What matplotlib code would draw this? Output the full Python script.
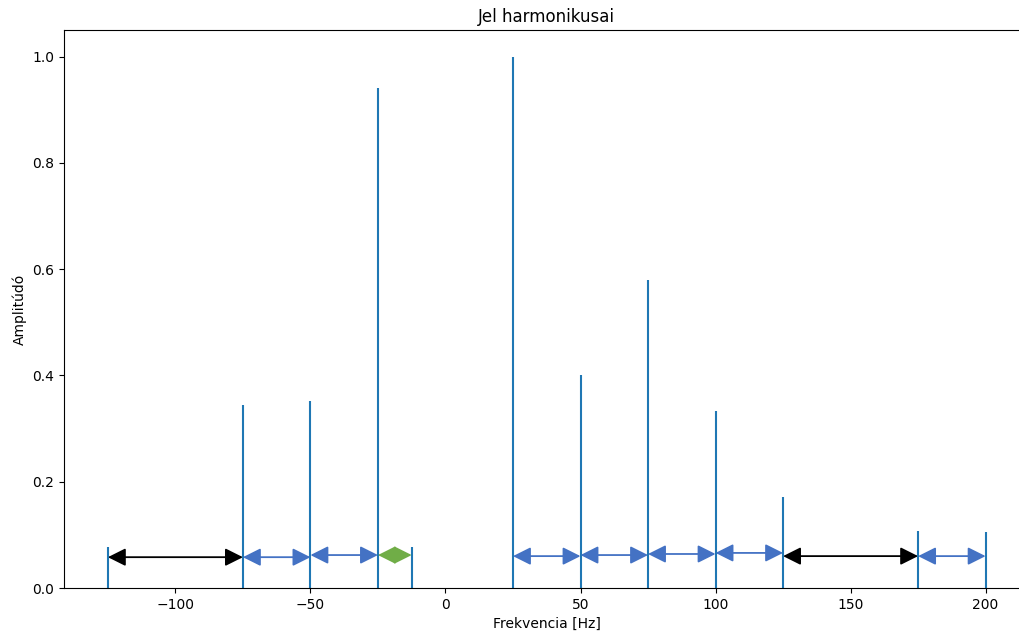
import matplotlib
matplotlib.use('Agg')
import matplotlib.pyplot as plt

# harmonics
freqs = [-125, -75, -50, -25, -12.5, 25, 50, 75, 100, 125, 175, 200]
amps = [0.078, 0.345, 0.351, 0.94, 0.077, 1.0, 0.401, 0.58, 0.333, 0.171, 0.107, 0.106]

# arrows between harmonics: start, end, height, colour
arr_start = [-125, -75, -50, -25, 25, 50, 75, 100, 125, 175]
arr_end = [-75, -50, -25, -12.5, 50, 75, 100, 125, 175, 200]
arr_y = [0.058, 0.058, 0.062, 0.062, 0.060, 0.062, 0.064, 0.066, 0.060, 0.060]
arr_col = ['black', '#4472C4', '#4472C4', '#70AD47', '#4472C4', '#4472C4',
           '#4472C4', '#4472C4', 'black', '#4472C4']

fig = plt.figure(figsize=(10.2, 6.32), dpi=100)
ax = fig.add_axes([64/1020, 44/632, (1029.5-64)/1020, 558/632])

ax.vlines(freqs, 0, amps, colors='#1f77b4', linewidth=1.5)

for x0, x1, y, c in zip(arr_start, arr_end, arr_y, arr_col):
    ax.annotate('', xy=(x1, y), xytext=(x0, y),
                arrowprops=dict(arrowstyle='<|-|>', color=c, lw=1.3,
                                mutation_scale=27, shrinkA=0, shrinkB=0))

ax.set_xlim(-141.25, 216.25)
ax.set_ylim(0, 1.05)
ax.set_xticks([-100, -50, 0, 50, 100, 150, 200])
ax.set_title('Jel harmonikusai')
ax.set_xlabel('Frekvencia [Hz]')
ax.set_ylabel('Amplitúdó')

fig.savefig('out.png', dpi=100)
